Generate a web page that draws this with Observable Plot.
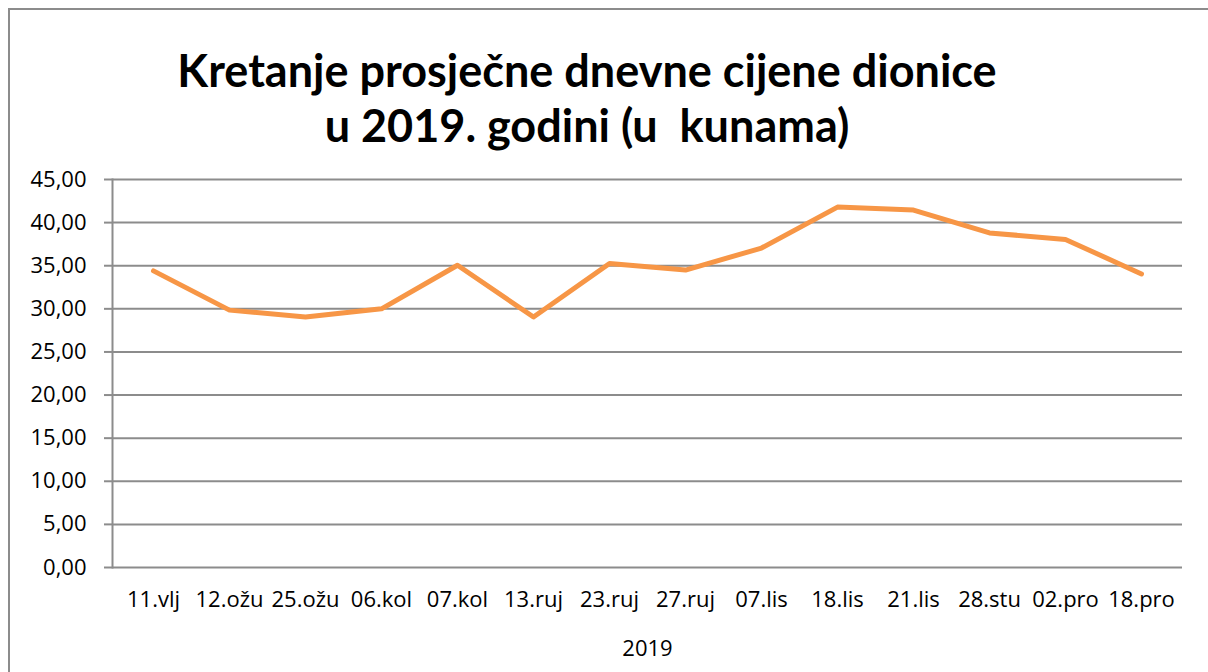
<!DOCTYPE html>
<html>
<head>
<meta charset="utf-8">
<script src="https://cdn.jsdelivr.net/npm/d3@7"></script>
<script src="https://cdn.jsdelivr.net/npm/@observablehq/plot@0.6"></script>
<style>
  html, body { margin: 0; padding: 0; background: #fff; }
  body { width: 1208px; height: 672px; overflow: hidden; position: relative; font-family: "Open Sans", sans-serif; }
  #box { position: absolute; left: 8px; top: 8px; width: 1260px; height: 720px; border: 2px solid #8c8c8c; box-sizing: border-box; }
  #title { position: absolute; left: 0; top: 43px; width: 1174px; text-align: center; font-family: Lato, sans-serif; font-weight: 700; font-size: 45px; color: #000; white-space: pre; line-height: 55px; }
  #chart { position: absolute; left: 0; top: 0; }
</style>
</head>
<body>
<div id="box"></div>
<div id="title">Kretanje prosječne dnevne cijene dionice<br>u 2019. godini (u  kunama)</div>
<div id="chart"></div>
<script>
const dates = ["11.vlj","12.ožu","25.ožu","06.kol","07.kol","13.ruj","23.ruj","27.ruj","07.lis","18.lis","21.lis","28.stu","02.pro","18.pro"];
const prices = [34.4, 29.85, 29.05, 30.0, 35.05, 29.05, 35.25, 34.5, 37.05, 41.8, 41.45, 38.8, 38.05, 34.05];
const yTicks = [0, 5, 10, 15, 20, 25, 30, 35, 40, 45];
const xLabel = ["2019"];

const data = dates.map((d, i) => ({date: d, price: prices[i]}));
const fmt = v => v.toFixed(2).replace(".", ",");

const chart = Plot.plot({
  width: 1208,
  height: 672,
  marginLeft: 112,
  marginRight: 26,
  marginTop: 179,
  marginBottom: 105,
  style: {fontFamily: "'Open Sans', sans-serif", fontSize: "22px", color: "#000", background: "transparent", overflow: "visible"},
  x: {type: "point", domain: dates, padding: 0.5},
  y: {domain: [0, 45], ticks: yTicks},
  marks: [
    Plot.gridY(yTicks, {stroke: "#8c8c8c", strokeOpacity: 1, strokeWidth: 2}),
    Plot.frame({anchor: "left", stroke: "#8c8c8c", strokeWidth: 2}),
    Plot.axisY(yTicks, {tickSize: 8, tickPadding: 18, tickFormat: fmt, stroke: "#8c8c8c", strokeWidth: 2, label: null, fill: "#000", fontSize: 22}),
    Plot.axisX({tickSize: 0, tickPadding: 24, label: null, fill: "#000", fontSize: 22}),
    Plot.line(data, {x: "date", y: "price", stroke: "#F79646", strokeWidth: 5, strokeLinejoin: "round", strokeLinecap: "round"}),
    Plot.text(xLabel, {frameAnchor: "bottom", lineAnchor: "top", dy: 73, text: d => d, fill: "#000", fontSize: 22})
  ]
});
document.getElementById("chart").appendChild(chart);
</script>
</body>
</html>
